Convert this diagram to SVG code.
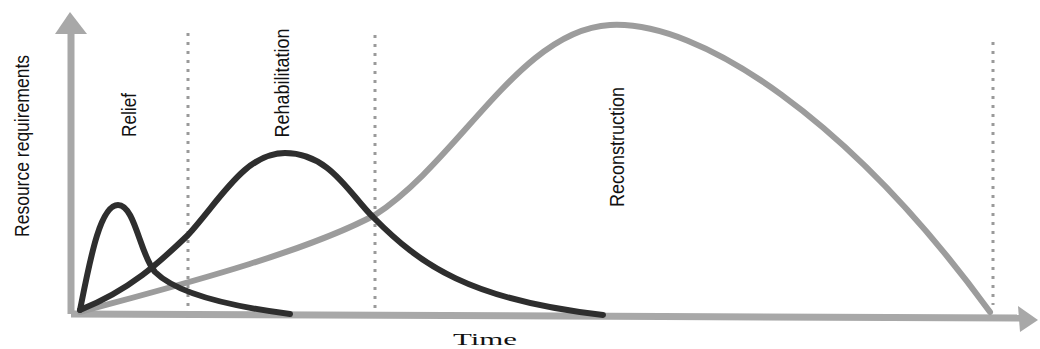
<svg xmlns="http://www.w3.org/2000/svg" width="1040" height="349" viewBox="0 0 1040 349">
<style>
.axis{fill:none;stroke:#a8a8a8;stroke-width:7}
.head{fill:#a8a8a8}
.div{fill:none;stroke:#9a9a9a;stroke-width:3;stroke-dasharray:3 6}
.dark{fill:none;stroke:#2e2e2e;stroke-width:6;stroke-linecap:round}
.light{fill:none;stroke:#9c9c9c;stroke-width:6;stroke-linecap:round}
.lbl{font-family:"Liberation Sans",Arial,sans-serif;font-size:21px;fill:#111;text-anchor:middle}
.time{font-family:"Liberation Serif","Times New Roman",serif;font-size:17px;fill:#111;text-anchor:middle}
</style>
<rect width="1040" height="349" fill="#fff"/>
<g id="axes">
<line class="axis" x1="71" y1="28" x2="71" y2="314"/>
<polygon class="head" points="70,12 87,34 55,34"/>
<line class="axis" x1="71" y1="314" x2="1022" y2="318"/>
<polygon class="head" points="1038,320 1018,306 1020,332"/>
</g>
<g id="dividers">
<line class="div" x1="188" y1="33" x2="188" y2="312"/>
<line class="div" x1="375" y1="35" x2="375" y2="310"/>
<line class="div" x1="993" y1="42" x2="993" y2="305"/>
</g>
<g id="connectors">
<path id="reconstruction-curve" class="light" d="M80,312 C160,290 300,255 375,215 C460,160 520,30 610,25 C700,20 850,120 990,312"/>
<path id="relief-curve" class="dark" d="M80,310 C90,260 100,205 118,205 C135,205 140,255 155,272 C175,292 220,305 290,314"/>
<path id="rehabilitation-curve" class="dark" d="M80,310 C130,290 160,262 188,235 C220,200 245,153 285,153 C330,153 350,195 373,217 C420,265 470,300 603,315"/>
</g>
<g id="label-resource">
<text class="lbl" transform="translate(29,146) rotate(-90)" textLength="182" lengthAdjust="spacingAndGlyphs">Resource requirements</text>
</g>
<g id="label-relief">
<text class="lbl" transform="translate(136,115) rotate(-90)" textLength="44" lengthAdjust="spacingAndGlyphs">Relief</text>
</g>
<g id="label-rehabilitation">
<text class="lbl" transform="translate(289,83) rotate(-90)" textLength="109" lengthAdjust="spacingAndGlyphs">Rehabilitation</text>
</g>
<g id="label-reconstruction">
<text class="lbl" transform="translate(624,147) rotate(-90)" textLength="120" lengthAdjust="spacingAndGlyphs">Reconstruction</text>
</g>
<g id="label-time">
<text class="time" x="485" y="345" textLength="64" lengthAdjust="spacingAndGlyphs">Time</text>
</g>
</svg>
